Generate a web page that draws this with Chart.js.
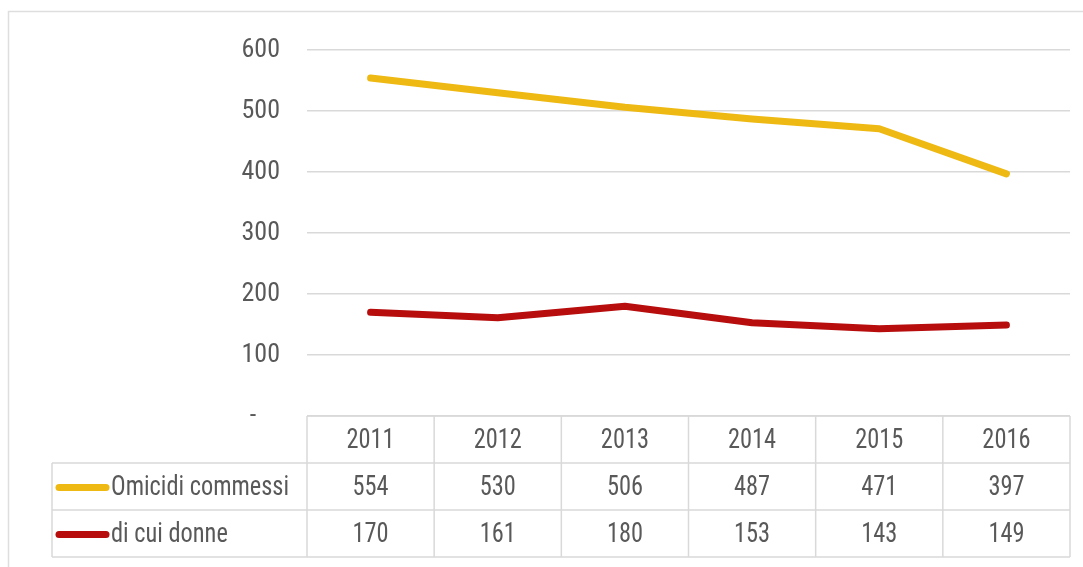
<!DOCTYPE html>
<html>
<head>
<meta charset="utf-8">
<script src="https://cdn.jsdelivr.net/npm/chart.js@4"></script>
<style>
  body { margin: 0; background: #fff; }
  canvas { display: block; }
</style>
</head>
<body>
<canvas id="chart" width="1083" height="567"></canvas>
<script>
// data
const years = ['2011', '2012', '2013', '2014', '2015', '2016'];
const omicidi = [554, 530, 506, 487, 471, 397];
const donne = [170, 161, 180, 153, 143, 149];
const seriesNames = ['Omicidi commessi', 'di cui donne'];

const FONT = "'Liberation Sans Narrow', 'Arial Narrow', 'Roboto Condensed', 'DejaVu Sans Condensed', sans-serif";
const TEXT = '#595959';
const GRID = '#d9d9d9';

// narrow-looking text: squeeze horizontally a bit
function narrowText(ctx, str, x, y) {
  ctx.save();
  ctx.translate(x, y);
  ctx.scale(0.87, 1);
  ctx.fillText(str, 0, 0);
  ctx.restore();
}

// draws the frame and the data table under the plot
const tablePlugin = {
  id: 'dataTable',
  afterDraw(chart) {
    const ctx = chart.ctx;
    const area = chart.chartArea;
    const x = chart.scales.x;
    const step = x.getPixelForValue(1) - x.getPixelForValue(0);
    const rowH = 47;
    const top = area.bottom;
    const bottom = top + rowH * 3;
    const legendLeft = 52;

    ctx.save();
    // outer frame (top + left)
    ctx.strokeStyle = '#dedede';
    ctx.lineWidth = 1.5;
    ctx.beginPath();
    ctx.moveTo(8, 11.5); ctx.lineTo(1083, 11.5);
    ctx.moveTo(8.5, 11); ctx.lineTo(8.5, 567);
    ctx.stroke();

    // table grid
    ctx.strokeStyle = GRID;
    ctx.lineWidth = 1.5;
    ctx.beginPath();
    ctx.moveTo(area.left, top); ctx.lineTo(area.right, top);
    for (let r = 1; r <= 3; r++) {
      ctx.moveTo(legendLeft, top + rowH * r);
      ctx.lineTo(area.right, top + rowH * r);
    }
    ctx.moveTo(legendLeft, top + rowH); ctx.lineTo(legendLeft, bottom);
    for (let i = 0; i <= years.length; i++) {
      const px = x.getPixelForValue(0) - step / 2 + step * i;
      ctx.moveTo(px, top); ctx.lineTo(px, bottom);
    }
    ctx.stroke();

    // header and values
    ctx.fillStyle = TEXT;
    ctx.font = '28px ' + FONT;
    ctx.textAlign = 'center';
    ctx.textBaseline = 'middle';
    years.forEach((y, i) => {
      narrowText(ctx, y, x.getPixelForValue(i), top + rowH / 2 + 1);
    });
    chart.data.datasets.forEach((ds, r) => {
      const cy = top + rowH * (r + 1) + rowH / 2 + 1;
      ds.data.forEach((v, i) => {
        narrowText(ctx, String(v), x.getPixelForValue(i), cy);
      });
      // legend key
      ctx.strokeStyle = ds.borderColor;
      ctx.lineWidth = 7;
      ctx.lineCap = 'round';
      ctx.beginPath();
      ctx.moveTo(59, cy); ctx.lineTo(106, cy);
      ctx.stroke();
      ctx.textAlign = 'left';
      narrowText(ctx, seriesNames[r], 111, cy);
      ctx.textAlign = 'center';
    });
    ctx.restore();
  }
};

new Chart(document.getElementById('chart'), {
  type: 'line',
  data: {
    labels: years,
    datasets: [
      { label: seriesNames[0], data: omicidi, borderColor: '#EFB914', borderWidth: 7 },
      { label: seriesNames[1], data: donne, borderColor: '#B70D0D', borderWidth: 7 }
    ]
  },
  options: {
    responsive: false,
    animation: false,
    devicePixelRatio: 1,
    layout: { padding: { left: 0, top: 50, right: 13, bottom: 151 } },
    elements: {
      point: { radius: 0 },
      line: { tension: 0, borderCapStyle: 'round', borderJoinStyle: 'round' }
    },
    plugins: {
      legend: { display: false },
      tooltip: { enabled: false }
    },
    scales: {
      x: { type: 'category', display: false, offset: true },
      y: {
        min: 0,
        max: 600,
        afterFit(scale) { scale.width = 307; },
        border: { display: false },
        grid: { color: GRID, lineWidth: 1.5, drawTicks: false },
        ticks: {
          stepSize: 100,
          padding: 27,
          color: TEXT,
          font: { family: FONT, size: 26 },
          callback: v => v === 0 ? '-    ' : v
        }
      }
    }
  },
  plugins: [tablePlugin]
});
</script>
</body>
</html>
